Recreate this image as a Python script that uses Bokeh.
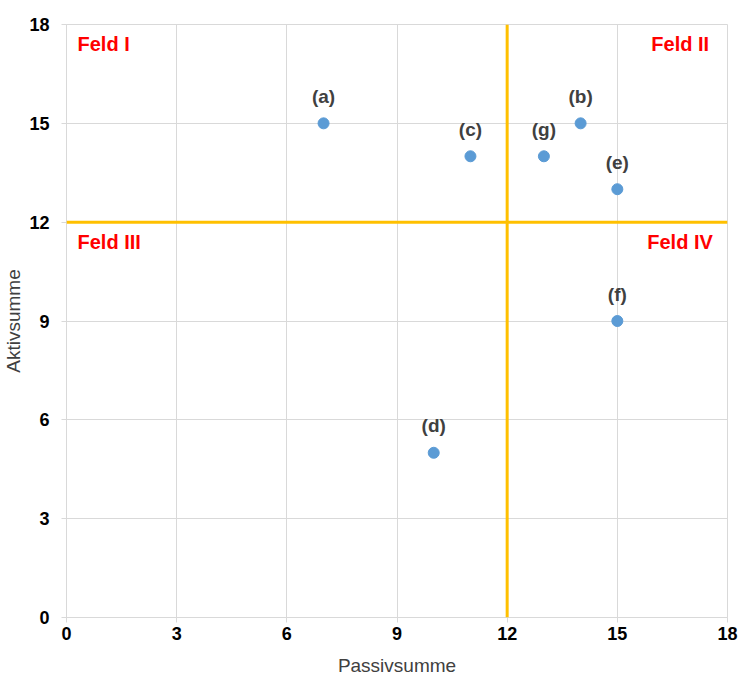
from bokeh.plotting import figure
from bokeh.models import ColumnDataSource, Span, Label, FixedTicker, Range1d
from bokeh.embed import file_html
from bokeh.resources import INLINE
from bokeh.core.properties import value

labels = ["(a)", "(b)", "(c)", "(d)", "(e)", "(f)", "(g)"]
passiv = [7, 14, 11, 10, 15, 15, 13]
aktiv = [15, 15, 14, 5, 13, 9, 14]
ticks = [0, 3, 6, 9, 12, 15, 18]
threshold_x = 12
threshold_y = 12

FONT = "Liberation Sans"

p = figure(width=741, height=681, output_backend="svg", toolbar_location=None,
           x_range=Range1d(0, 18), y_range=Range1d(0, 18),
           min_border_left=65, min_border_right=14, min_border_top=24, min_border_bottom=64)
p.background_fill_color = "white"
p.border_fill_color = "white"
p.outline_line_color = "#d9d9d9"

for ax in (p.xaxis[0], p.yaxis[0]):
    ax.ticker = FixedTicker(ticks=ticks)
    ax.axis_line_color = "#d9d9d9"
    ax.major_tick_line_color = "#d9d9d9"
    ax.major_tick_out = 5
    ax.major_tick_in = 0
    ax.minor_tick_line_color = None
    ax.major_label_text_font = FONT
    ax.major_label_text_font_style = "bold"
    ax.major_label_text_font_size = "18px"
    ax.major_label_text_color = "#000000"
    ax.axis_label_text_font = FONT
    ax.axis_label_text_font_style = "normal"
    ax.axis_label_text_font_size = "19px"
    ax.axis_label_text_color = "#404040"

p.xaxis.axis_label = "Passivsumme"
p.yaxis.axis_label = "Aktivsumme"
p.xaxis.major_label_standoff = 4
p.yaxis.major_label_standoff = 12
p.xaxis.axis_label_standoff = 12
p.yaxis.axis_label_standoff = 2

p.xgrid.grid_line_color = "#d9d9d9"
p.ygrid.grid_line_color = "#d9d9d9"
p.xgrid.ticker = FixedTicker(ticks=ticks)
p.ygrid.ticker = FixedTicker(ticks=ticks)

p.add_layout(Span(location=threshold_x, dimension="height", line_color="#FFC000", line_width=3))
p.add_layout(Span(location=threshold_y, dimension="width", line_color="#FFC000", line_width=3))

src = ColumnDataSource(dict(x=passiv, y=aktiv, label=labels))
p.scatter("x", "y", source=src, size=11, fill_color="#5B9BD5", line_color="#5B9BD5")
p.text("x", "y", text="label", source=src, y_offset=-27, text_align="center",
       text_baseline="middle", text_font=value(FONT), text_font_style="bold",
       text_font_size="19px", text_color="#404040")

feld = [("Feld I", 0.3, 17.4, "left"), ("Feld II", 17.5, 17.4, "right"),
        ("Feld III", 0.3, 11.4, "left"), ("Feld IV", 17.6, 11.4, "right")]
for t, x, y, al in feld:
    p.add_layout(Label(x=x, y=y, text=t, text_align=al, text_baseline="middle",
                       text_font=FONT, text_font_style="bold", text_font_size="20px",
                       text_color="#FF0000"))

open("out.html", "w").write(file_html(p, INLINE))
